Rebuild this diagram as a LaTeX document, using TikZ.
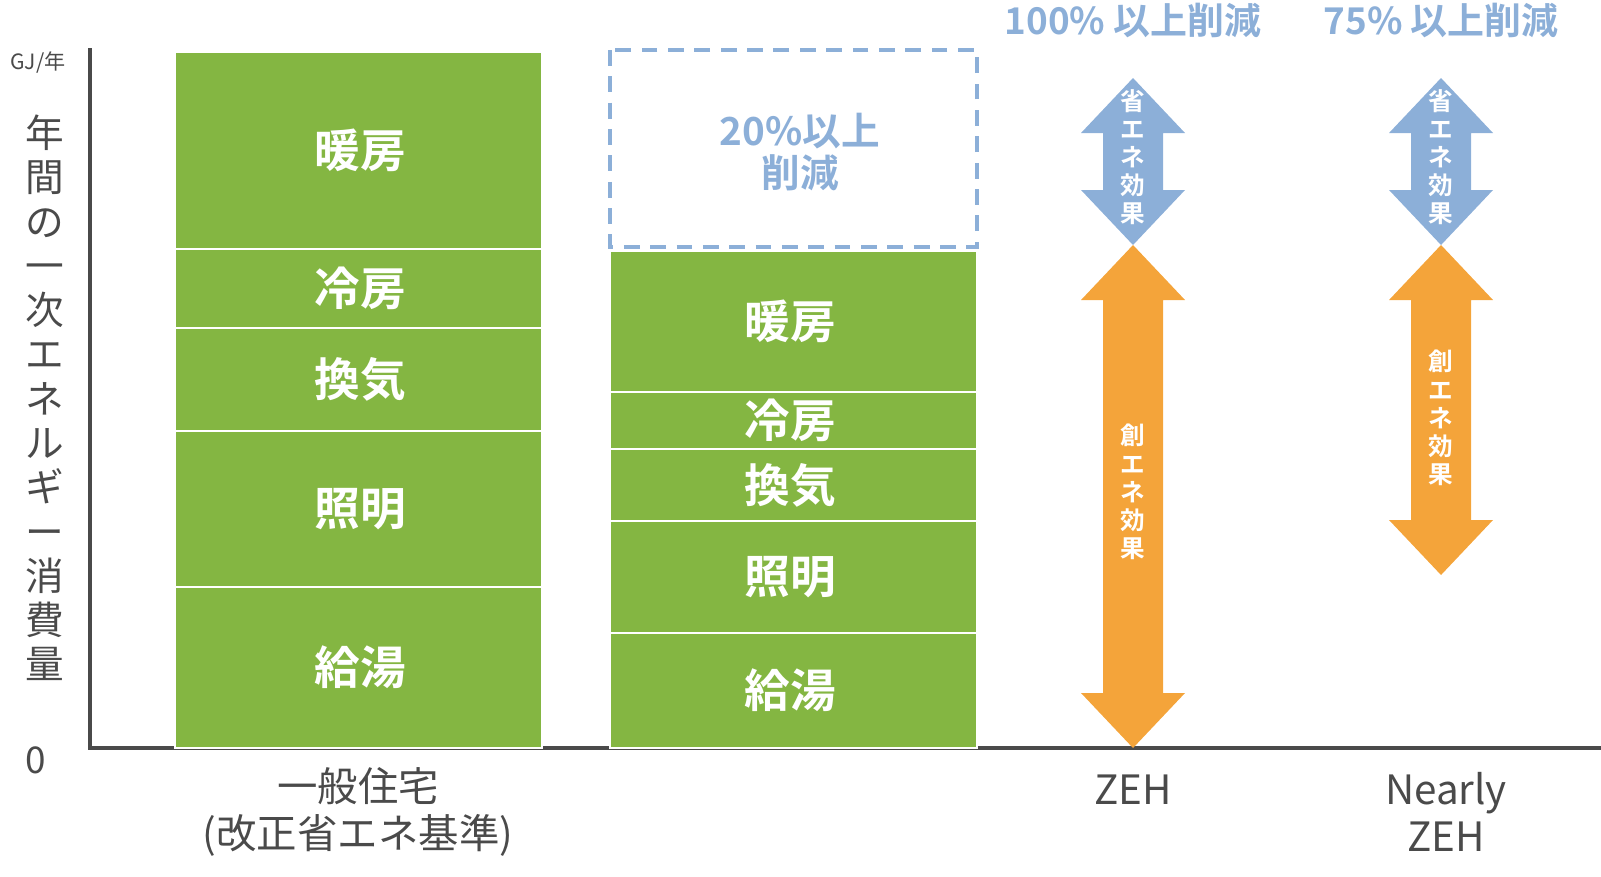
\documentclass[tikz,border=0pt]{standalone}
\usepackage{fontspec}
\setmainfont{Noto Sans CJK JP}
\newfontfamily\jpbold{Noto Sans CJK JP Bold}
\definecolor{barGreen}{HTML}{84B642}
\definecolor{saveBlue}{HTML}{8CAFD8}
\definecolor{makeOrange}{HTML}{F4A43A}
\definecolor{axisGray}{HTML}{4A4A4A}
\tikzset{
  seg/.style={fill=barGreen, draw=white, line width=1.5pt},
  seglabel/.style={text=white, font=\jpbold\fontsize{26}{28}\selectfont},
  arrowlabel/.style={text=white, font=\jpbold\fontsize{14}{16}\selectfont, align=center},
  toplabel/.style={text=saveBlue, font=\jpbold\fontsize{21}{22}\selectfont},
  catlabel/.style={text=axisGray, font=\fontsize{23}{27}\selectfont, align=center}
}
% double arrow: x, top y, bottom y, colour
\newcommand\dblarrow[4]{%
  \fill[#4] (#1,#2) -- (#1+52,#2+55) -- (#1+30,#2+55) -- (#1+30,#3-55) -- (#1+52,#3-55)
    -- (#1,#3) -- (#1-52,#3-55) -- (#1-30,#3-55) -- (#1-30,#2+55) -- (#1-52,#2+55) -- cycle;}
\begin{document}
\begin{tikzpicture}[x=0.02cm, y=-0.02cm]
  \useasboundingbox (0,0) rectangle (1601,876);

  % axes
  \draw[axisGray, line width=2.2pt] (90,48) -- (90,748) -- (1601,748);
  \node[text=axisGray, font=\fontsize{12}{13}\selectfont] (unit) at (38,62) {GJ/年};
  \node[text=axisGray, font=\fontsize{21}{22}\selectfont] (zero) at (36,760) {0};
  \node[text=axisGray, font=\fontsize{22}{25.2}\selectfont, align=center] (ylabel) at (45,398)
    {年\\間\\の\\一\\次\\エ\\ネ\\ル\\ギ\\ー\\消\\費\\量};

  % standard house
  \foreach \top/\bot/\name in {52/249/暖房, 249/328/冷房, 328/431/換気, 431/587/照明, 587/748/給湯}{
    \draw[seg] (175,\top) rectangle (542,\bot);
    \node[seglabel] at (360,{(\top+\bot)/2}) {\name};
  }
  % reduced house
  \draw[saveBlue, line width=2pt, dash pattern=on 9pt off 6pt] (610,50) rectangle (977,247);
  \node[text=saveBlue, font=\jpbold\fontsize{22}{24}\selectfont, align=center] (cut) at (800,152)
    {20\%以上\\削減};
  \foreach \top/\bot/\name in {251/392/暖房, 392/449/冷房, 449/521/換気, 521/633/照明, 633/748/給湯}{
    \draw[seg] (610,\top) rectangle (977,\bot);
    \node[seglabel] at (790,{(\top+\bot)/2}) {\name};
  }

  % ZEH
  \node[toplabel] (zehtop) at (1133,20) {100\% 以上削減};
  \dblarrow{1133}{78}{245}{saveBlue}
  \dblarrow{1133}{245}{748}{makeOrange}
  \node[arrowlabel] (zehsave) at (1133,157) {省\\エ\\ネ\\効\\果};
  \node[arrowlabel] (zehmake) at (1133,492) {創\\エ\\ネ\\効\\果};

  % Nearly ZEH
  \node[toplabel] (nzehtop) at (1441,20) {75\% 以上削減};
  \dblarrow{1441}{78}{245}{saveBlue}
  \dblarrow{1441}{245}{575}{makeOrange}
  \node[arrowlabel] (nzehsave) at (1441,157) {省\\エ\\ネ\\効\\果};
  \node[arrowlabel] (nzehmake) at (1441,418) {創\\エ\\ネ\\効\\果};

  % categories
  \node[catlabel] (cat1) at (358,812) {一般住宅\\(改正省エネ基準)};
  \node[catlabel] (cat2) at (1133,790) {ZEH};
  \node[catlabel] (cat3) at (1446,812) {Nearly\\ZEH};
\end{tikzpicture}
\end{document}
